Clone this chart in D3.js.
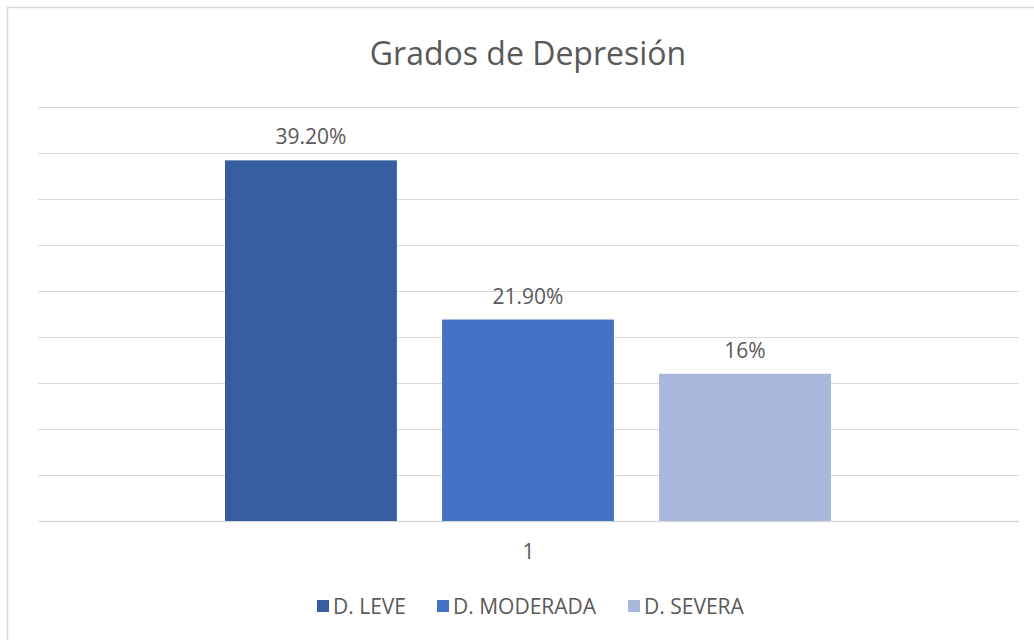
<!DOCTYPE html>
<html>
<head>
    <meta charset="utf-8">
    <title>Grados de Depresión</title>
    <script src="https://cdn.jsdelivr.net/npm/d3@7"></script>
    <style>
        body { margin: 0; background: #fff; }
        text { font-family: "Open Sans", "Noto Sans", sans-serif; fill: #595959; }
    </style>
</head>
<body>
    <script>
        var w = 1034;
        var h = 640;

        // data
        var categories = ["1"];
        var series = ["D. LEVE", "D. MODERADA", "D. SEVERA"];
        var values = [0.392, 0.219, 0.16];
        var labels = ["39.20%", "21.90%", "16%"];
        var colors = ["#365E9F", "#4472C4", "#A9B7DB"];
        var yTicks = [0, 0.05, 0.10, 0.15, 0.20, 0.25, 0.30, 0.35, 0.40, 0.45];

        var svg = d3.select("body").append("svg")
                    .attr("width", w)
                    .attr("height", h);

        // chart frame
        svg.append("rect")
            .attr("x", 7.5).attr("y", 7.5)
            .attr("width", w + 20).attr("height", h + 20)
            .attr("fill", "none")
            .attr("stroke", "#d9d9d9")
            .attr("stroke-width", 1.5);

        var plot = {left: 38, right: 1019, top: 107, bottom: 521};

        var x = d3.scaleBand()
            .domain(categories)
            .range([plot.left, plot.right]);

        var xs = d3.scaleBand()
            .domain(series)
            .range([225 - plot.left, 831 - plot.left])
            .paddingInner(0.208);

        var y = d3.scaleLinear()
            .domain([0, 0.45])
            .range([plot.bottom, plot.top]);

        // gridlines
        svg.append("g")
            .selectAll("line")
            .data(yTicks)
            .enter()
            .append("line")
            .attr("x1", plot.left)
            .attr("x2", plot.right)
            .attr("y1", function(d) { return Math.round(y(d)) + 0.5; })
            .attr("y2", function(d) { return Math.round(y(d)) + 0.5; })
            .attr("stroke", "#d9d9d9")
            .attr("stroke-width", function(d) { return d === 0 ? 1.5 : 1.2; });

        var g = svg.append("g")
            .attr("transform", "translate(" + x(categories[0]) + ",0)");

        g.selectAll("rect")
            .data(values)
            .enter()
            .append("rect")
            .attr("x", function(d, i) { return xs(series[i]); })
            .attr("y", function(d) { return y(d); })
            .attr("width", xs.bandwidth())
            .attr("height", function(d) { return y(0) - y(d); })
            .attr("fill", function(d, i) { return colors[i]; });

        // value labels
        g.selectAll("text")
            .data(values)
            .enter()
            .append("text")
            .text(function(d, i) { return labels[i]; })
            .attr("x", function(d, i) { return xs(series[i]) + xs.bandwidth() / 2; })
            .attr("y", function(d) { return y(d) - 16; })
            .attr("text-anchor", "middle")
            .attr("font-size", 21);

        // category axis label
        svg.append("text")
            .text(categories[0])
            .attr("x", x(categories[0]) + x.bandwidth() / 2)
            .attr("y", 559)
            .attr("text-anchor", "middle")
            .attr("font-size", 21);

        // title
        svg.append("text")
            .text("Grados de Depresión")
            .attr("x", 528)
            .attr("y", 65)
            .attr("text-anchor", "middle")
            .attr("font-size", 32);

        // legend
        var legendX = [317, 437, 628];
        var lg = svg.append("g").selectAll("g")
            .data(series)
            .enter()
            .append("g")
            .attr("transform", function(d, i) { return "translate(" + legendX[i] + ",600)"; });

        lg.append("rect")
            .attr("width", 12).attr("height", 12)
            .attr("fill", function(d, i) { return colors[i]; });

        lg.append("text")
            .text(function(d) { return d; })
            .attr("x", 16)
            .attr("y", 13.5)
            .attr("font-size", 21);
    </script>
</body>
</html>
